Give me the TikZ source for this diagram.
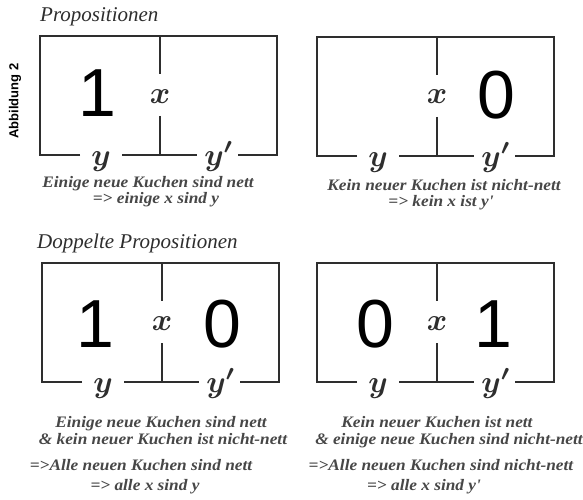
\documentclass[tikz,border=0pt]{standalone}
\usepackage{fontspec}
\usepackage{graphicx}
\setmainfont{Liberation Serif}
\newfontfamily\ziffernfont{Liberation Sans}
\newfontfamily\kapfont[FakeStretch=1.08]{Liberation Serif}
\colorlet{tinte}{black!82}
% letters of the frames: bold math italic, enlarged
\newcommand\grossvar[1]{\scalebox{3.1}{\boldmath$#1$}}

\tikzset{
  rahmen/.style={draw=tinte, line width=1.8pt},
  var/.style={text=tinte, inner sep=0pt, anchor=base},
  ziffer/.style={font=\ziffernfont\fontsize{68}{68}\selectfont, text=black, inner sep=0pt, anchor=base},
  titel/.style={font=\fontsize{21}{21}\selectfont\itshape, text=tinte, inner sep=0pt, anchor=base west},
  zeile/.style={font=\kapfont\fontsize{16}{16}\selectfont\bfseries\itshape, text=black!72,
    inner sep=0pt, text height=9.5pt, text depth=3pt},
  % frame with split centre line and the labels x, y, y'
  kasten/.pic={
    \draw[rahmen] (40,119) -- (0,119) -- (0,0) -- (237,0) -- (237,119) -- (198,119);
    \draw[rahmen] (82,119) -- (157,119);
    \draw[rahmen] (120,0) -- (120,38);
    \draw[rahmen] (120,80) -- (120,119);
    \node[var] (-x) at (120,67) {\grossvar{x}};
    \node[var] (-y) at (61,129) {\grossvar{y}};
    \node[var] (-yp) at (179,129) {\grossvar{y^{\smash{\prime}}}};
  }
}

\begin{document}
\begin{tikzpicture}[x=1pt, y=-1pt]
  \fill[white] (0,0) rectangle (583,500);
  \useasboundingbox (0,0) rectangle (583,500);

  % side label
  \node[rotate=90, font=\ziffernfont\bfseries\fontsize{13}{13}\selectfont, inner sep=0pt]
    (abb) at (15,101) {Abbildung 2};

  % section titles
  \node[titel] (t1) at (40,22) {Propositionen};
  \node[titel] (t2) at (37,248) {Doppelte Propositionen};

  % the four frames
  \pic (k1) at (40,36) {kasten};
  \pic (k2) at (317,37) {kasten};
  \pic (k3) at (42,263) {kasten};
  \pic (k4) at (317,263) {kasten};

  % entries
  \node[ziffer] (k1-a) at (97,117) {1};
  \node[ziffer] (k2-b) at (496,118) {0};
  \node[ziffer] (k3-a) at (95,347) {1};
  \node[ziffer] (k3-b) at (222,347) {0};
  \node[ziffer] (k4-a) at (375,347) {0};
  \node[ziffer] (k4-b) at (493,347) {1};

  % captions
  \node[zeile] (c1a) at (148,184) {Einige neue Kuchen sind nett};
  \node[zeile] (c1b) at (156,200) {=> einige x sind y};
  \node[zeile] (c2a) at (444,187) {Kein neuer Kuchen ist nicht-nett};
  \node[zeile] (c2b) at (441,203) {=> kein x ist y'};

  \node[zeile] (c3a) at (161,424) {Einige neue Kuchen sind nett};
  \node[zeile] (c3b) at (163,441) {\& kein neuer Kuchen ist nicht-nett};
  \node[zeile] (c3c) at (141,467) {=>Alle neuen Kuchen sind nett};
  \node[zeile] (c3d) at (145,487) {=> alle x sind y};

  \node[zeile] (c4a) at (437,424) {Kein neuer Kuchen ist nett};
  \node[zeile] (c4b) at (449,441) {\& einige neue Kuchen sind nicht-nett};
  \node[zeile] (c4c) at (441,467) {=>Alle neuen Kuchen sind nicht-nett};
  \node[zeile] (c4d) at (424,487) {=> alle x sind y'};
\end{tikzpicture}
\end{document}
